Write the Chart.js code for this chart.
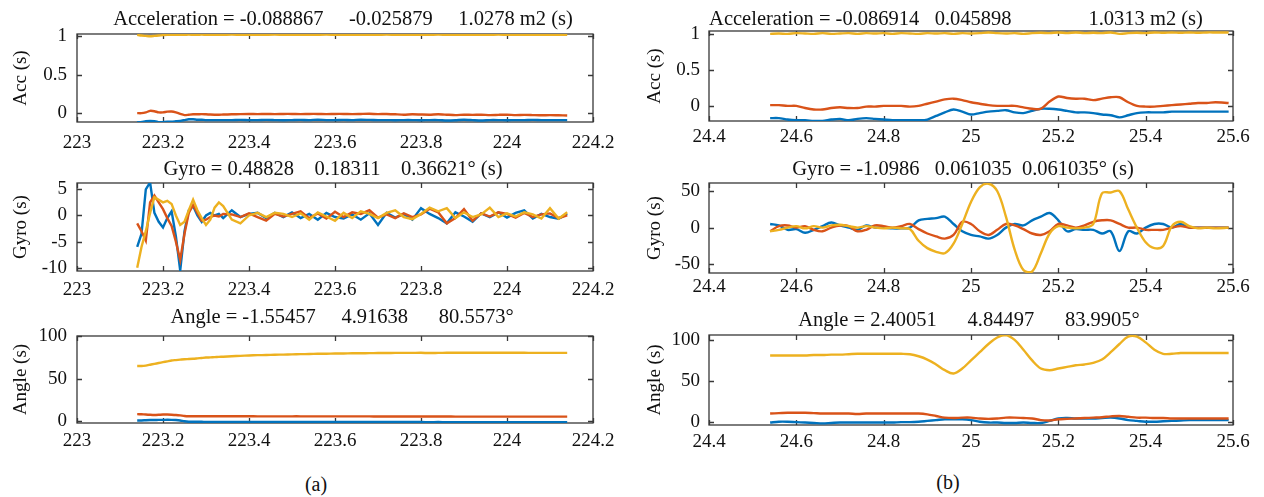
<!DOCTYPE html>
<html lang="en">
<head>
<meta charset="UTF-8">
<title>Acceleration, gyro and angle readings</title>
<style>
  body { margin: 0; background: #fff; }
  #fig { position: relative; width: 1264px; height: 497px; overflow: hidden; background: #fff; }
  #fig canvas { position: absolute; }
  .sub { position: absolute; font-family: 'Liberation Serif', serif; font-size: 20px; color: #111; transform: translate(-50%, -50%); }
</style>
<script src="https://cdn.jsdelivr.net/npm/chart.js"></script>
<script>
// ---- data ----
// left group (a): time axis 223 .. 224.2
const timesL = [
  223.14, 223.15, 223.16, 223.17, 223.18, 223.19, 223.20, 223.21, 223.22, 223.23,
  223.24, 223.25, 223.26, 223.27, 223.28, 223.29, 223.30, 223.31, 223.32, 223.33,
  223.34, 223.36, 223.38, 223.40, 223.42, 223.44, 223.46, 223.48, 223.50, 223.52,
  223.54, 223.56, 223.58, 223.60, 223.62, 223.64, 223.66, 223.68, 223.70, 223.72,
  223.74, 223.76, 223.78, 223.80, 223.82, 223.84, 223.86, 223.88, 223.90, 223.92,
  223.94, 223.96, 223.98, 224.00, 224.02, 224.04, 224.06, 224.08, 224.10, 224.12,
  224.14
];
const accBlueL = [
  -0.12, -0.115, -0.105, -0.10, -0.105, -0.12, -0.115, -0.11, -0.11, -0.105,
  -0.10, -0.09, -0.08, -0.08, -0.085, -0.085, -0.09, -0.09, -0.09, -0.09,
  -0.09, -0.09, -0.088, -0.09, -0.09, -0.088, -0.09, -0.092, -0.09, -0.088,
  -0.09, -0.085, -0.09, -0.09, -0.088, -0.09, -0.085, -0.088, -0.09, -0.09,
  -0.092, -0.09, -0.09, -0.092, -0.09, -0.09, -0.095, -0.092, -0.085, -0.09,
  -0.095, -0.09, -0.09, -0.092, -0.09, -0.09, -0.088, -0.09, -0.09, -0.09,
  -0.09
];
const accOrangeL = [
  0.0, 0.0, 0.01, 0.03, 0.025, 0.01, 0.01, 0.02, 0.022, 0.01,
  -0.01, -0.025, -0.02, -0.015, -0.015, -0.012, -0.015, -0.018, -0.02, -0.02,
  -0.018, -0.015, -0.012, -0.01, -0.012, -0.01, -0.012, -0.01, -0.01, -0.012,
  -0.01, -0.01, -0.012, -0.01, -0.01, -0.012, -0.01, -0.008, -0.012, -0.01,
  -0.015, -0.02, -0.015, -0.018, -0.02, -0.015, -0.02, -0.025, -0.02, -0.022,
  -0.02, -0.025, -0.022, -0.02, -0.025, -0.022, -0.025, -0.028, -0.025, -0.028,
  -0.03
];
const accYellowL = [
  1.02, 1.01, 1.005, 1.0, 1.005, 1.01, 1.015, 1.02, 1.02, 1.018,
  1.02, 1.02, 1.022, 1.02, 1.02, 1.022, 1.02, 1.02, 1.018, 1.02,
  1.02, 1.022, 1.02, 1.02, 1.018, 1.02, 1.022, 1.02, 1.02, 1.02,
  1.018, 1.02, 1.022, 1.02, 1.02, 1.02, 1.018, 1.02, 1.02, 1.022,
  1.02, 1.02, 1.018, 1.02, 1.02, 1.022, 1.02, 1.02, 1.018, 1.02,
  1.02, 1.02, 1.022, 1.02, 1.02, 1.018, 1.02, 1.02, 1.02, 1.02,
  1.02
];
const gyroBlueL = [
  -6, -3.5, 5, 6.3, 0.5, -1.2, -2.3, -0.5, 0.8, -4,
  -10.5, -3, 1, 1.8, 0, -1.2, 0, 0.5, 0, 0.3,
  -0.5, 1, -0.3, 0.3, 0.5, -0.5, 0.5, -0.3, 0.6, -0.5,
  0.3, -0.8, 0.5, -0.3, -0.6, 0.2, -0.8, 0.4, -1.8, 0.5,
  -0.4, 0.3, -0.8, 1.4, 0.3, -0.5, -1.5, 0.6, -0.2, -1.2,
  0.4, -0.3, 0.6, -0.4, 0.5, 1.0, -0.6, 0.3, -0.3, -0.6,
  0.3
];
const gyroOrangeL = [
  -1.5, -3, -4.8, 2.5, 3.8, 2.5, 1.2, -0.5, -2, -5,
  -8.5, -3.5, 0.5, 2, 0.5, -1, -0.8, -0.3, 0, -0.2,
  0.3, 0.2, -0.3, 0.4, -0.3, -1.0, 0.3, -0.2, 0.3, 0.8,
  -0.5, 0.4, -0.6, 0.7, -0.3, 0.6, 0.3, 1.0, -0.4, 0.2,
  -0.5, 0.4, -0.3, 0.2, 1.3, 0.6, -1.5, -0.5, 1.2, -1,
  0.4, -0.2, 0.6, 0.3, -0.4, 0.5, -0.3, 0.2, 0.4, -0.5,
  0
];
const gyroYellowL = [
  -10, -6, -3, 0.5, 3.5, 3, 2.5, 2.8, 2.2, 0,
  -1.8, -1.2, 1, 3, 1, -0.5, -1.8, -0.8, 1.5, 2.5,
  1.8, -0.8, -1.5, 0, 0.5, -0.3, 0.5, 0.3, -0.3, 0.4,
  -0.8, 0.6, -0.2, -1.0, 0.5, -0.5, 0.8, 0.3, -0.5, 0.5,
  1.0, -0.3, -0.7, 0.3, 1.5, 0.8, 1.4, -0.5, 0.6, -0.3,
  0.2, 1.5, -0.3, 0.4, -0.2, 0.6, 0.2, -0.6, 1.4, -0.6,
  0.6
];
const angleBlueL = [
  0.5, 0.5, 0.8, 1, 1, 1.2, 1.2, 1.3, 1.2, 1,
  0.5, -0.5, -1, -1, -1.1, -1.1, -1.2, -1.2, -1.2, -1.2,
  -1.2, -1.2, -1.3, -1.3, -1.2, -1.3, -1.3, -1.3, -1.2, -1.3,
  -1.3, -1.3, -1.3, -1.4, -1.3, -1.3, -1.4, -1.4, -1.4, -1.4,
  -1.4, -1.4, -1.4, -1.4, -1.5, -1.4, -1.5, -1.5, -1.5, -1.5,
  -1.5, -1.5, -1.5, -1.5, -1.5, -1.5, -1.5, -1.5, -1.5, -1.5,
  -1.5
];
const angleOrangeL = [
  8, 7.8, 7.5, 7.2, 7, 7.2, 7.5, 7.5, 7.3, 7,
  6.5, 5.8, 5.5, 5.5, 5.5, 5.5, 5.5, 5.5, 5.5, 5.5,
  5.5, 5.5, 5.5, 5.5, 5.4, 5.4, 5.4, 5.4, 5.4, 5.4,
  5.3, 5.3, 5.3, 5.3, 5.3, 5.3, 5.3, 5.3, 5.2, 5.2,
  5.2, 5.2, 5.2, 5.2, 5.2, 5.2, 5.2, 5.1, 5.1, 5.1,
  5.1, 5.1, 5.1, 5.1, 5.0, 5.0, 5.0, 5.0, 5.0, 5.0,
  5.0
];
const angleYellowL = [
  65, 65, 65.5, 66.5, 67.5, 68.5, 69.5, 70.5, 71.5, 72,
  72.5, 73, 73.2, 73.5, 74, 74.5, 75, 75.2, 75.5, 75.8,
  76, 76.5, 77, 77.5, 77.8, 78, 78.3, 78.5, 78.8, 79,
  79.2, 79.4, 79.5, 79.7, 79.8, 80, 80, 80.2, 80.3, 80.4,
  80.5, 80.5, 80.5, 80.6, 80.3, 80.5, 80.6, 80.6, 80.6, 80.6,
  80.6, 80.6, 80.6, 80.6, 80.6, 80.6, 80.5, 80.5, 80.5, 80.5,
  80.5
];

// right group (b): time axis 24.4 .. 25.6
const timesR = [
  24.54, 24.56, 24.58, 24.60, 24.62, 24.64, 24.66, 24.68, 24.70, 24.72,
  24.74, 24.76, 24.78, 24.80, 24.82, 24.84, 24.86, 24.88, 24.90, 24.92,
  24.94, 24.96, 24.98, 25.00, 25.02, 25.04, 25.06, 25.08, 25.10, 25.12,
  25.14, 25.16, 25.18, 25.20, 25.22, 25.24, 25.26, 25.28, 25.30, 25.32,
  25.34, 25.36, 25.38, 25.40, 25.42, 25.44, 25.46, 25.48, 25.50, 25.52,
  25.54, 25.56, 25.59
];
const accBlueR = [
  -0.17, -0.17, -0.19, -0.2, -0.2, -0.21, -0.21, -0.19, -0.18, -0.2,
  -0.18, -0.17, -0.18, -0.19, -0.2, -0.2, -0.2, -0.2, -0.19, -0.14,
  -0.09, -0.05, -0.08, -0.12, -0.1, -0.08, -0.07, -0.06, -0.09, -0.1,
  -0.07, -0.04, -0.04, -0.05, -0.07, -0.09, -0.09, -0.1, -0.12, -0.13,
  -0.16, -0.13, -0.1, -0.09, -0.09, -0.09, -0.08, -0.08, -0.08, -0.08,
  -0.08, -0.08, -0.08
];
const accOrangeR = [
  0.01, 0.01, 0.0, 0.0, -0.03, -0.05, -0.05, -0.03, -0.02, -0.03,
  -0.03, -0.01, -0.01, 0.0, 0.0, 0.0, -0.01, 0.0, 0.03, 0.06,
  0.09, 0.1, 0.08, 0.05, 0.03, 0.01, 0.0, 0.0, 0.0, -0.02,
  -0.04, -0.04, 0.06, 0.13, 0.11, 0.1, 0.1, 0.08, 0.1, 0.12,
  0.12, 0.05, 0.0, -0.01, -0.01, 0.0, 0.01, 0.02, 0.03, 0.04,
  0.04, 0.05, 0.04
];
const accYellowR = [
  1.0, 1.005, 1.0, 1.01, 1.005, 1.0, 1.01, 1.0, 1.005, 1.01,
  1.0, 1.01, 1.005, 1.01, 1.0, 1.01, 1.005, 1.0, 1.01, 1.005,
  1.01, 1.0, 1.01, 1.005, 1.01, 1.02, 1.01, 1.005, 1.01, 1.0,
  1.01, 1.015, 1.01, 1.02, 1.01, 1.02, 1.01, 1.015, 1.01, 1.02,
  1.0, 1.01, 1.015, 1.01, 1.02, 1.015, 1.02, 1.015, 1.02, 1.015,
  1.02, 1.02, 1.02
];
const gyroBlueR = [
  5, 3, -3, -2, -7, -3, 2, 7, 3, 0,
  -3, 3, 0, 0, -1, -1, 0, 10, 12, 13,
  15, 5, -5, -10, -12, -15, -10, 0, 5, 3,
  10, 15, 20, 10, -5, -2, -3, -3, -8, -5,
  -32, -5, -8, 0, 5, 5, 0, 5, 0, 0,
  0, 0, 0
];
const gyroOrangeR = [
  -5, 2, 3, 0, 2, -3, -5, 0, 3, 2,
  -5, -3, 3, 2, 0, 2, 5, -2, -8, -12,
  -15, -10, 8, 5, -5, -10, -3, 5, 3, -2,
  -8, -10, -5, 5, 3, 0, 3, 8, 10, 10,
  5, 0, 0, -3, -3, -3, 0, 2, 0, 0,
  0, 0, 0
];
const gyroYellowR = [
  -5, -3, 0, 2, -1, 2, 0, 3, 4, 2,
  0, 2, 0, -1, 0, -1, -2, -18, -28, -33,
  -35, -22, 5, 35, 55, 60, 50, 15, -30, -58,
  -60, -35, -8, 2, 0, -1, 0, 5, 47, 48,
  50, 25, 0, -20, -28, -25, 2, 8, 2, -1,
  0, -1, 0
];
const angleBlueR = [
  -1, 0, 0, -0.5, -1, -1.5, -2, -1.5, -1, -1,
  -1, -1, -1, -1, -1, -0.5, -0.5, 0, 1, 2,
  3, 3, 3, 2, 0, -1, -1, -1.5, -1.5, -1,
  -1.5, -1.5, 1, 4, 4.5, 4, 4, 4, 4.5, 5,
  4, 2, 1, 0, 0, 0.5, 1, 1.5, 2, 2,
  2, 2, 2
];
const angleOrangeR = [
  10, 10.5, 11, 11, 11, 10.5, 10, 10, 10, 10,
  9.5, 10, 10, 10, 10, 10, 10, 10, 9, 7,
  5, 4.5, 5, 5, 4, 3.5, 4, 5, 5, 4.5,
  4, 2, 1.5, 3, 3.5, 4, 4.5, 5, 5.5, 6.5,
  7, 6, 5, 5, 4.5, 4.5, 4, 4, 4, 4,
  4, 4, 4
];
const angleYellowR = [
  81, 81, 81, 81, 81, 81.5, 81.5, 82, 82, 82.5,
  83, 83, 83, 83, 83, 83, 82.5, 80, 76, 70,
  63, 59, 65, 75, 85, 95, 103, 106, 100, 88,
  75, 65, 63, 65, 67, 69, 70, 72, 76, 85,
  95, 104, 104, 97, 88, 83, 83, 84, 84, 84,
  84, 84, 84
];

// tick labels
const xTicksL = [223, 223.2, 223.4, 223.6, 223.8, 224, 224.2];
const xTicksR = [24.4, 24.6, 24.8, 25, 25.2, 25.4, 25.6];
const accTicks = [0, 0.5, 1];
const gyroTicksL = [-10, -5, 0, 5];
const gyroTicksR = [-50, 0, 50];
const angleTicks = [0, 50, 100];

// titles and axis names
const titles = [
  'Acceleration = -0.088867     -0.025879     1.0278 m2 (s)',
  'Gyro = 0.48828    0.18311    0.36621\u00b0 (s)',
  'Angle = -1.55457     4.91638      80.5573\u00b0',
  'Acceleration = -0.086914   0.045898               1.0313 m2 (s)',
  'Gyro = -1.0986   0.061035  0.061035\u00b0 (s)',
  'Angle = 2.40051      4.84497      83.9905\u00b0'
];
const yNames = ['Acc (s)', 'Gyro (s)', 'Angle (s)'];
</script>
</head>
<body>
<div id="fig">
  <canvas id="c0"></canvas>
  <canvas id="c1"></canvas>
  <canvas id="c2"></canvas>
  <canvas id="c3"></canvas>
  <canvas id="c4"></canvas>
  <canvas id="c5"></canvas>
  <div class="sub" style="left:316px; top:484px">(a)</div>
  <div class="sub" style="left:948px; top:482px">(b)</div>
</div>
<script>
const FONT = "'Liberation Serif', 'Times New Roman', serif";
const INK = '#111';
const FRAME = '#383838';
const BLUE = '#0072BD', ORANGE = '#D95319', YELLOW = '#EDB120';

// page geometry of each column / row
const columns = {
  L: { canvasLeft: 0, width: 632, chartLeft: 77, chartRight: 593, yTitleX: 21, yGap: 10, xMin: 223, xMax: 224.2 },
  R: { canvasLeft: 632, width: 632, chartLeft: 709, chartRight: 1233, yTitleX: 655, yGap: 9, xMin: 24.4, xMax: 25.6 }
};
const rows = [{ top: 0, height: 152 }, { top: 152, height: 152 }, { top: 304, height: 160 }];

const panels = [
  { col: 'L', row: 0, top: 34, bottom: 122, titleX: 343, titleY: 20, labelY: 143, yMin: -0.115, yMax: 1.03, yTicks: accTicks, xTicks: xTicksL,
    t: timesL, series: [accYellowL, accOrangeL, accBlueL], tension: 0.2 },
  { col: 'L', row: 1, top: 183, bottom: 271, titleX: 333, titleY: 170, labelY: 290, yMin: -10.6, yMax: 6.2, yTicks: gyroTicksL, xTicks: xTicksL,
    t: timesL, series: [gyroYellowL, gyroOrangeL, gyroBlueL], tension: 0 },
  { col: 'L', row: 2, top: 336, bottom: 423, titleX: 342, titleY: 318, labelY: 441, yMin: -2.5, yMax: 100.5, yTicks: angleTicks, xTicks: xTicksL,
    t: timesL, series: [angleYellowL, angleOrangeL, angleBlueL], tension: 0.2 },
  { col: 'R', row: 0, top: 31, bottom: 121, titleX: 956, titleY: 20, labelY: 137, yMin: -0.21, yMax: 1.04, yTicks: accTicks, xTicks: xTicksR,
    t: timesR, series: [accYellowR, accOrangeR, accBlueR], tension: 0.3 },
  { col: 'R', row: 1, top: 183, bottom: 273, titleX: 963, titleY: 170, labelY: 287, yMin: -62, yMax: 61, yTicks: gyroTicksR, xTicks: xTicksR,
    t: timesR, series: [gyroYellowR, gyroOrangeR, gyroBlueR], tension: 0.35 },
  { col: 'R', row: 2, top: 335, bottom: 425, titleX: 969, titleY: 321, labelY: 442, yMin: -4, yMax: 106, yTicks: angleTicks, xTicks: xTicksR,
    t: timesR, series: [angleYellowR, angleOrangeR, angleBlueR], tension: 0.35 }
];

// box round the axes with inward tick marks on all four sides
const framePlugin = {
  id: 'frame',
  beforeDatasetsDraw(chart) {
    const { ctx, chartArea: a, scales: { x, y } } = chart;
    const len = 5;
    ctx.save();
    ctx.strokeStyle = FRAME;
    ctx.lineWidth = 1.3;
    ctx.strokeRect(a.left, a.top, a.right - a.left, a.bottom - a.top);
    ctx.beginPath();
    x.ticks.forEach(tk => {
      const px = Math.round(x.getPixelForValue(tk.value)) + 0.5;
      ctx.moveTo(px, a.bottom); ctx.lineTo(px, a.bottom - len);
      ctx.moveTo(px, a.top); ctx.lineTo(px, a.top + len);
    });
    y.ticks.forEach(tk => {
      const py = Math.round(y.getPixelForValue(tk.value)) + 0.5;
      ctx.moveTo(a.left, py); ctx.lineTo(a.left + len, py);
      ctx.moveTo(a.right, py); ctx.lineTo(a.right - len, py);
    });
    ctx.stroke();
    ctx.restore();
  }
};

// title text above each axes, centred where the reference puts it
const titlePlugin = {
  id: 'panelTitle',
  afterDraw(chart, args, opts) {
    const ctx = chart.ctx;
    ctx.save();
    ctx.font = opts.size + 'px ' + FONT;
    ctx.fillStyle = INK;
    ctx.textAlign = 'center';
    ctx.textBaseline = 'middle';
    ctx.fillText(opts.text, opts.x, opts.y);
    ctx.restore();
  }
};

const fontSize = 19;
const titleSize = 20.5;
const colors = [YELLOW, ORANGE, BLUE];

panels.forEach((p, i) => {
  const col = columns[p.col];
  const row = rows[p.row];
  const canvas = document.getElementById('c' + i);
  canvas.width = col.width;
  canvas.height = row.height;
  canvas.style.left = col.canvasLeft + 'px';
  canvas.style.top = row.top + 'px';
  canvas.style.width = col.width + 'px';
  canvas.style.height = row.height + 'px';

  const datasets = p.series.map((vals, k) => ({
    data: p.t.map((t, j) => ({ x: t, y: vals[j] })),
    borderColor: colors[k],
    borderWidth: 2.4,
    pointRadius: 0,
    tension: p.tension,
    fill: false
  }));

  new Chart(canvas.getContext('2d'), {
    type: 'line',
    data: { datasets },
    plugins: [framePlugin, titlePlugin],
    options: {
      responsive: false,
      animation: false,
      events: [],
      layout: { padding: { left: 0, top: p.top - row.top, bottom: 0, right: col.canvasLeft + col.width - col.chartRight } },
      plugins: {
        legend: { display: false },
        tooltip: { enabled: false },
        title: { display: false },
        panelTitle: { text: titles[i], x: p.titleX - col.canvasLeft, y: p.titleY - row.top, size: titleSize }
      },
      scales: {
        x: {
          type: 'linear',
          min: col.xMin,
          max: col.xMax,
          grid: { display: false, drawTicks: false },
          border: { display: false },
          ticks: {
            color: INK,
            font: { family: FONT, size: fontSize, lineHeight: 1 },
            padding: p.labelY - p.bottom - fontSize / 2,
            autoSkip: false,
            maxRotation: 0,
            callback: v => String(v)
          },
          afterBuildTicks: s => { s.ticks = p.xTicks.map(v => ({ value: v })); },
          afterFit: s => { s.height = row.top + row.height - p.bottom; }
        },
        y: {
          min: p.yMin,
          max: p.yMax,
          grid: { display: false, drawTicks: false },
          border: { display: false },
          ticks: {
            color: INK,
            font: { family: FONT, size: fontSize, lineHeight: 1 },
            padding: col.yGap,
            callback: v => String(v)
          },
          title: {
            display: true,
            text: yNames[p.row],
            color: INK,
            font: { family: FONT, size: fontSize, lineHeight: 1 },
            padding: { top: col.yTitleX - col.canvasLeft - fontSize / 2, bottom: 0 }
          },
          afterBuildTicks: s => { s.ticks = p.yTicks.map(v => ({ value: v })); },
          afterFit: s => { s.width = col.chartLeft - col.canvasLeft; }
        }
      }
    }
  });
});
</script>
</body>
</html>
